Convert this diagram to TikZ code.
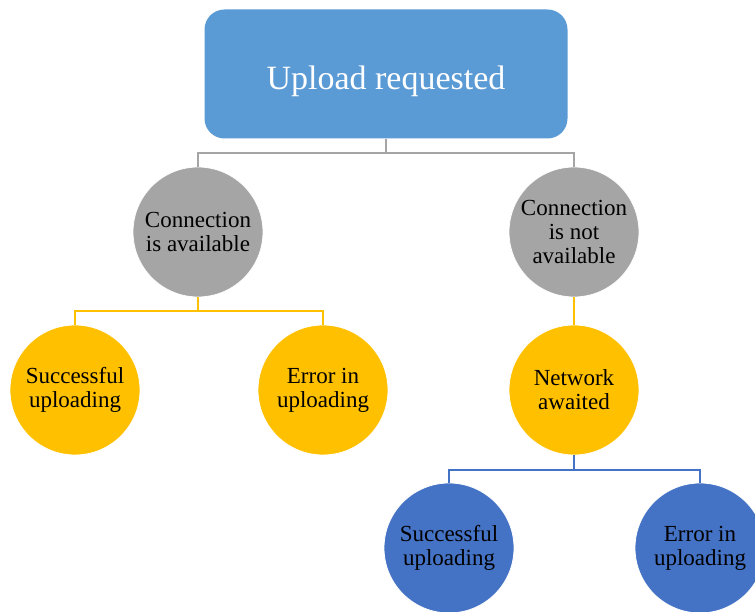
\documentclass[tikz,border=0pt]{standalone}
\usepackage{fontspec}
\setmainfont{Liberation Serif}
\definecolor{topblue}{HTML}{5B9BD5}
\definecolor{cgray}{HTML}{A5A5A5}
\definecolor{cyellow}{HTML}{FFC000}
\definecolor{cblue}{HTML}{4472C4}
\begin{document}
\begin{tikzpicture}[x=1pt,y=-1pt,
  topbox/.style={rectangle,rounded corners=20pt,minimum width=363pt,minimum height=129pt,
    fill=topblue,text=white,inner sep=0pt,text height=38pt,text depth=6pt,
    font=\fontsize{34}{40}\selectfont},
  circ/.style={circle,minimum size=130pt,inner sep=0pt,align=center,
    font=\fontsize{23}{24}\selectfont,draw=white,line width=0.8pt},
  graycirc/.style={circ,fill=cgray},
  yelcirc/.style={circ,fill=cyellow},
  bluecirc/.style={circ,fill=cblue},
  gline/.style={draw=cgray,line width=1.8pt},
  yline/.style={draw=cyellow,line width=1.8pt},
  bline/.style={draw=cblue,line width=1.8pt}]
\useasboundingbox (0,0) rectangle (755,612);
\clip (0,0) rectangle (755,612);
\node[topbox] (top) at (386,74) {Upload requested};
\node[graycirc] (c1) at (198,232) {Connection\\is available};
\node[graycirc] (c2) at (574,232) {Connection\\is not\\available};
\node[yelcirc] (y1) at (75,390) {Successful\\uploading};
\node[yelcirc] (y2) at (323,390) {Error in\\uploading};
\node[yelcirc] (y3) at (574,390) {Network\\awaited};
\node[bluecirc] (b1) at (449,548) {Successful\\uploading};
\node[bluecirc] (b2) at (700,548) {Error in\\uploading};
\coordinate (gbar) at (386,153);
\coordinate (ybar) at (198,311);
\coordinate (bbar) at (574,470);
\draw[gline] (top.south) -- (gbar);
\draw[gline] (c1.north) |- (gbar) -| (c2.north);
\draw[yline] (c1.south) -- (ybar);
\draw[yline] (y1.north) |- (ybar) -| (y2.north);
\draw[yline] (c2.south) -- (y3.north);
\draw[bline] (y3.south) -- (bbar);
\draw[bline] (b1.north) |- (bbar) -| (b2.north);
\end{tikzpicture}
\end{document}
